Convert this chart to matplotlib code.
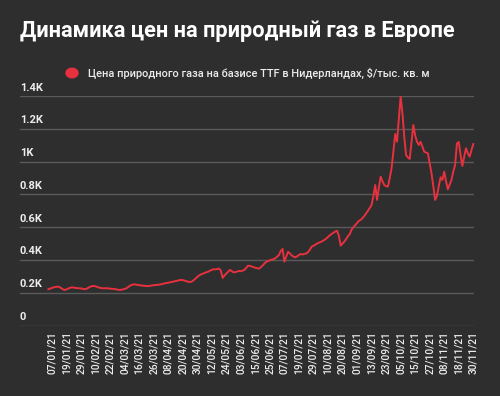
import matplotlib.pyplot as plt

plt.rcParams['font.family'] = ['Roboto', 'DejaVu Sans']

title = 'Динамика цен на природный газ в Европе'
series_name = 'Цена природного газа на базисе TTF в Нидерландах, $/тыс. кв. м'

# цена по торговым дням, с 05/01/21 по 30/11/21
price = [
    221, 225, 229, 233, 235, 237, 236, 228, 221, 217,
    220, 226, 230, 233, 231, 229, 228, 227, 226, 224,
    221, 224, 230, 236, 240, 241, 239, 235, 231, 229,
    227, 227, 228, 226, 225, 224, 223, 221, 219, 217,
    218, 220, 223, 227, 235, 243, 248, 251, 250, 248,
    246, 245, 243, 242, 241, 240, 242, 244, 246, 247,
    248, 249, 251, 254, 257, 259, 261, 263, 266, 268,
    271, 273, 276, 278, 277, 274, 270, 267, 265, 268,
    276, 286, 296, 305, 311, 316, 320, 325, 328, 334,
    340, 343, 342, 345, 347, 335, 290, 305, 317, 328,
    339, 332, 324, 326, 329, 333, 331, 335, 339, 352,
    365, 363, 360, 356, 352, 349, 347, 355, 366, 378,
    389, 393, 397, 402, 404, 411, 420, 430, 455, 467,
    389, 420, 450, 440, 428, 420, 416, 422, 430, 436,
    433, 437, 439, 448, 462, 481, 486, 493, 500, 505,
    510, 515, 522, 530, 540, 550, 558, 566, 573, 578,
    546, 487, 500, 511, 528, 545, 558, 585, 600, 613,
    625, 638, 644, 655, 668, 684, 700, 718, 735, 790,
    857, 766, 840, 908, 880, 857, 850, 847, 900, 959,
    1060, 1168, 1121, 1260, 1395, 1294, 1150, 1040, 1025, 1016,
    1120, 1223, 1160, 1121, 1101, 1121, 1090, 1060, 1055, 1050,
    990, 928, 850, 766, 790, 850, 904, 888, 938, 880,
    831, 860, 888, 940, 979, 1111, 1119, 1040, 973, 1030,
    1081, 1050, 1030, 1070, 1107,
]

# подпись стоит у каждой 8-й точки, начиная с 07/01/21
date_labels = [
    '07/01/21', '19/01/21', '29/01/21', '10/02/21', '22/02/21', '04/03/21',
    '16/03/21', '26/03/21', '08/04/21', '20/04/21', '30/04/21', '12/05/21',
    '24/05/21', '03/06/21', '15/06/21', '25/06/21', '07/07/21', '19/07/21',
    '29/07/21', '10/08/21', '20/08/21', '01/09/21', '13/09/21', '23/09/21',
    '05/10/21', '15/10/21', '27/10/21', '08/11/21', '18/11/21', '30/11/21',
]

y_ticks = [0, 200, 400, 600, 800, 1000, 1200, 1400]
y_tick_labels = ['0', '0.2K', '0.4K', '0.6K', '0.8K', '1K', '1.2K', '1.4K']

bg = '#2e2e2e'
red = '#e8313f'

fig = plt.figure(figsize=(5, 3.96), dpi=100, facecolor=bg)
ax = fig.add_axes([0.04, 1 - 325.5 / 396, 0.908, (325.5 - 96) / 396])
ax.set_facecolor(bg)

x = list(range(len(price)))
ax.plot(x, price, color=red, lw=1.4, clip_on=False, zorder=3)

ax.set_xlim(-15.6, 234.4)
ax.set_ylim(0, 1400)

for v in y_ticks:
    ax.axhline(v, color='#5a5a5a', lw=1, zorder=1)
for v, lab in zip(y_ticks, y_tick_labels):
    ax.annotate(lab, (0, v), xycoords=ax.get_yaxis_transform(),
                xytext=(0, 2.5), textcoords='offset points',
                color='#ececec', fontsize=8, fontweight='bold',
                ha='left', va='bottom')

ax.set_yticks([])
ax.set_xticks([2 + 8 * k for k in range(len(date_labels))])
ax.set_xticklabels(date_labels, rotation=90, color='#ececec',
                   fontsize=7.4, fontweight='medium')
ax.tick_params(axis='x', length=0, pad=4)
for s in ax.spines.values():
    s.set_visible(False)

fig.text(0.04, 1 - 31 / 396, title, color='white', fontsize=15.7,
         fontweight='bold', ha='left', va='center')
fig.patches.append(plt.Circle((72 / 500, 1 - 73 / 396), 0.012,
                              transform=fig.transFigure, color=red,
                              figure=fig))
fig.text(88 / 500, 1 - 73 / 396, series_name, color='#ececec',
         fontsize=7.95, fontweight='medium', ha='left', va='center')

fig.savefig('out.png', dpi=100, facecolor=bg)
